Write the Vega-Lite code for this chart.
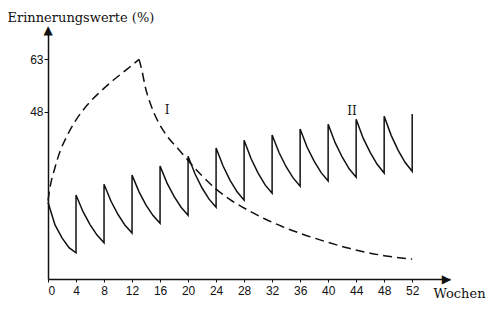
{
  "$schema": "https://vega.github.io/schema/vega-lite/v6.json",
  "width": 402,
  "height": 251,
  "autosize": {"type": "none"},
  "padding": {"left": 48, "top": 28, "right": 50, "bottom": 34},
  "background": "white",
  "config": {"view": {"stroke": null}},
  "datasets": {
    "kurve2": [
      {"ord": 1, "w": 0, "v": 22}, {"ord": 2, "w": 1, "v": 15.5}, {"ord": 3, "w": 2, "v": 11.8}, {"ord": 4, "w": 3, "v": 9.0}, {"ord": 5, "w": 4, "v": 7.5},
      {"ord": 6, "w": 4, "v": 24.1}, {"ord": 7, "w": 5, "v": 19.3}, {"ord": 8, "w": 6, "v": 15.6}, {"ord": 9, "w": 7, "v": 12.6}, {"ord": 10, "w": 8, "v": 10.4},
      {"ord": 11, "w": 8, "v": 27.2}, {"ord": 12, "w": 9, "v": 22.3}, {"ord": 13, "w": 10, "v": 18.5}, {"ord": 14, "w": 11, "v": 15.4}, {"ord": 15, "w": 12, "v": 13.2},
      {"ord": 16, "w": 12, "v": 29.8}, {"ord": 17, "w": 13, "v": 25}, {"ord": 18, "w": 14, "v": 21.2}, {"ord": 19, "w": 15, "v": 18.2}, {"ord": 20, "w": 16, "v": 16},
      {"ord": 21, "w": 16, "v": 32.4}, {"ord": 22, "w": 17, "v": 27.5}, {"ord": 23, "w": 18, "v": 23.7}, {"ord": 24, "w": 19, "v": 20.6}, {"ord": 25, "w": 20, "v": 18.3},
      {"ord": 26, "w": 20, "v": 35.2}, {"ord": 27, "w": 21, "v": 30.1}, {"ord": 28, "w": 22, "v": 26.1}, {"ord": 29, "w": 23, "v": 22.9}, {"ord": 30, "w": 24, "v": 20.6},
      {"ord": 31, "w": 24, "v": 37.6}, {"ord": 32, "w": 25, "v": 32.4}, {"ord": 33, "w": 26, "v": 28.3}, {"ord": 34, "w": 27, "v": 25}, {"ord": 35, "w": 28, "v": 22.6},
      {"ord": 36, "w": 28, "v": 39.8}, {"ord": 37, "w": 29, "v": 34.5}, {"ord": 38, "w": 30, "v": 30.4}, {"ord": 39, "w": 31, "v": 27}, {"ord": 40, "w": 32, "v": 24.6},
      {"ord": 41, "w": 32, "v": 41.3}, {"ord": 42, "w": 33, "v": 36.2}, {"ord": 43, "w": 34, "v": 32.2}, {"ord": 44, "w": 35, "v": 29}, {"ord": 45, "w": 36, "v": 26.6},
      {"ord": 46, "w": 36, "v": 43}, {"ord": 47, "w": 37, "v": 37.8}, {"ord": 48, "w": 38, "v": 33.8}, {"ord": 49, "w": 39, "v": 30.5}, {"ord": 50, "w": 40, "v": 28.1},
      {"ord": 51, "w": 40, "v": 44.4}, {"ord": 52, "w": 41, "v": 39.1}, {"ord": 53, "w": 42, "v": 35}, {"ord": 54, "w": 43, "v": 31.6}, {"ord": 55, "w": 44, "v": 29.2},
      {"ord": 56, "w": 44, "v": 45.8}, {"ord": 57, "w": 45, "v": 40.4}, {"ord": 58, "w": 46, "v": 36.3}, {"ord": 59, "w": 47, "v": 32.9}, {"ord": 60, "w": 48, "v": 30.4},
      {"ord": 61, "w": 48, "v": 46.7}, {"ord": 62, "w": 49, "v": 41.2}, {"ord": 63, "w": 50, "v": 36.9}, {"ord": 64, "w": 51, "v": 33.4}, {"ord": 65, "w": 52, "v": 30.9},
      {"ord": 66, "w": 52, "v": 47.3}
    ],
    "kurve1": [
      {"seg": "a", "w": 0, "v": 22.5}, {"seg": "a", "w": 0.3, "v": 26.4}, {"seg": "a", "w": 1, "v": 32}, {"seg": "a", "w": 1.7, "v": 36.5},
      {"seg": "a", "w": 2.7, "v": 41}, {"seg": "a", "w": 3.9, "v": 45.3}, {"seg": "a", "w": 5.6, "v": 49.9}, {"seg": "a", "w": 7.4, "v": 53.6},
      {"seg": "a", "w": 9.3, "v": 57}, {"seg": "a", "w": 11.3, "v": 60.2}, {"seg": "a", "w": 13, "v": 63},
      {"seg": "b", "w": 13, "v": 63}, {"seg": "b", "w": 13.4, "v": 59.9}, {"seg": "b", "w": 13.9, "v": 55}, {"seg": "b", "w": 14.6, "v": 50.4},
      {"seg": "b", "w": 15.6, "v": 45.6}, {"seg": "b", "w": 17, "v": 41}, {"seg": "b", "w": 18.6, "v": 37.3}, {"seg": "b", "w": 20, "v": 34},
      {"seg": "b", "w": 22, "v": 29.6}, {"seg": "b", "w": 24, "v": 25.8}, {"seg": "b", "w": 26, "v": 22.8}, {"seg": "b", "w": 28.5, "v": 19.8},
      {"seg": "b", "w": 31, "v": 17.2}, {"seg": "b", "w": 33.5, "v": 15}, {"seg": "b", "w": 36, "v": 13.1}, {"seg": "b", "w": 38.4, "v": 11.5},
      {"seg": "b", "w": 43, "v": 8.8}, {"seg": "b", "w": 48, "v": 6.7}, {"seg": "b", "w": 52, "v": 5.7}
    ],
    "beschriftung": [
      {"w": 17, "v": 48.4, "t": "I"},
      {"w": 43.4, "v": 48.1, "t": "II"}
    ],
    "pfeile": [
      {"w": 0, "v": 72, "achse": "y"},
      {"w": 57.4, "v": 0, "achse": "x"}
    ]
  },
  "encoding": {
    "x": {
      "field": "w", "type": "quantitative",
      "scale": {"domain": [0, 57.4], "nice": false, "zero": false},
      "axis": {
        "values": [0, 4, 8, 12, 16, 20, 24, 28, 32, 36, 40, 44, 48, 52],
        "grid": false, "domainColor": "#111", "domainWidth": 1.5,
        "tickColor": "#111", "tickSize": 3, "tickWidth": 1, "labelPadding": 3,
        "labelFont": "Liberation Sans", "labelFontSize": 12, "labelColor": "#111",
        "title": "Wochen", "titleFont": "DejaVu Serif", "titleFontSize": 13, "titleFontWeight": "normal",
        "titleColor": "#111", "titleAlign": "left", "titleBaseline": "alphabetic",
        "titleX": 385, "titleY": 18
      }
    },
    "y": {
      "field": "v", "type": "quantitative",
      "scale": {"domain": [0, 72], "nice": false, "zero": false},
      "axis": {
        "values": [48, 63],
        "grid": false, "domainColor": "#111", "domainWidth": 1.5,
        "tickColor": "#111", "tickSize": 4, "tickWidth": 1, "labelPadding": 1,
        "labelFont": "Liberation Sans", "labelFontSize": 12, "labelColor": "#111",
        "title": "Erinnerungswerte (%)", "titleFont": "DejaVu Serif", "titleFontSize": 13, "titleFontWeight": "normal",
        "titleColor": "#111", "titleAngle": 0, "titleAlign": "left", "titleBaseline": "alphabetic",
        "titleX": -41, "titleY": -7
      }
    }
  },
  "layer": [
    {
      "data": {"name": "kurve1"},
      "mark": {"type": "line", "color": "#111", "strokeWidth": 1.5, "strokeDash": [9, 5], "interpolate": "monotone"},
      "encoding": {"detail": {"field": "seg", "type": "nominal"}}
    },
    {
      "data": {"name": "kurve2"},
      "mark": {"type": "line", "color": "#111", "strokeWidth": 1.5},
      "encoding": {"order": {"field": "ord", "type": "quantitative"}}
    },
    {
      "data": {"name": "beschriftung"},
      "mark": {"type": "text", "font": "DejaVu Serif", "fontSize": 12, "color": "#111"},
      "encoding": {"text": {"field": "t", "type": "nominal"}}
    },
    {
      "data": {"name": "pfeile"},
      "transform": [{"filter": "datum.achse === 'y'"}],
      "mark": {"type": "text", "font": "DejaVu Sans", "fontSize": 12, "color": "#111", "text": "▲", "baseline": "top", "dy": -3}
    },
    {
      "data": {"name": "pfeile"},
      "transform": [{"filter": "datum.achse === 'x'"}],
      "mark": {"type": "text", "font": "DejaVu Sans", "fontSize": 12, "color": "#111", "text": "▶", "align": "right", "baseline": "middle", "dx": 1}
    }
  ]
}
